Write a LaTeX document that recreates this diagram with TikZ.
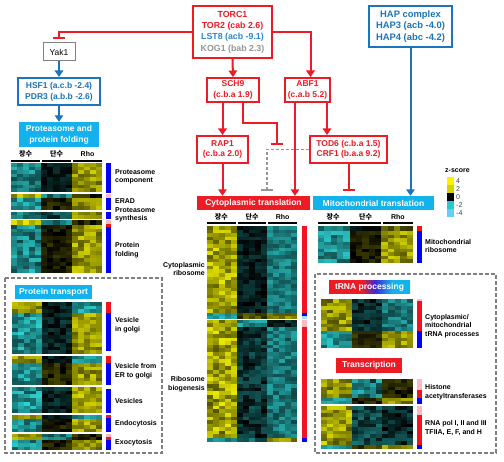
\documentclass[tikz,border=0pt]{standalone}
\usepackage{fontspec}
\setmainfont{Liberation Sans}
\newfontfamily\kr{Noto Sans CJK KR}
\usetikzlibrary{arrows.meta,calc}
\definecolor{tred}{RGB}{237,28,36}
\definecolor{tblue}{RGB}{27,117,188}
\definecolor{lblue}{RGB}{45,135,205}
\definecolor{tcyan}{RGB}{20,178,236}
\definecolor{tgray}{RGB}{150,150,150}
\definecolor{hmY}{RGB}{235,235,0}
\definecolor{hmC}{RGB}{50,235,235}
\definecolor{bred}{RGB}{240,20,30}
\definecolor{bblue}{RGB}{0,0,255}
\definecolor{bpink}{RGB}{255,185,195}
\definecolor{blight}{RGB}{170,220,255}
\definecolor{tpurp}{RGB}{60,40,220}
\pgfdeclarehorizontalshading{trnash}{100bp}{color(0bp)=(tred); color(25bp)=(tred); color(45.5bp)=(tred); color(53.5bp)=(tpurp); color(64bp)=(tcyan); color(75bp)=(tcyan); color(100bp)=(tcyan)}
\newcommand\hmblock[5]{%
  \pgfmathsetmacro\hmw{(#3-#1)/15}%
  \pgfmathtruncatemacro\hmn{max(1,round((#4-#2)/3.6))}%
  \pgfmathsetmacro\hmh{(#4-#2)/\hmn}%
  \foreach \gc/\glo/\ghi [count=\gi from 0] in {#5}{%
    \foreach \cx in {0,...,4}{%
      \foreach \ry in {1,...,\hmn}{%
        \pgfmathtruncatemacro\hv{\glo+(\ghi-\glo)*rnd}%
        \fill[\gc!\hv!black] ({#1+(\gi*5+\cx)*\hmw},{#2+(\ry-1)*\hmh}) rectangle ++(\hmw+0.05,\hmh+0.05);
      }}}}
\newcommand\sidebar[4]{\fill[#4] (#1,#2) rectangle (#1+5,#3);}
\newcommand\hmhead[5]{%
  \pgfmathsetmacro\hdw{(#3-#2-4)/3}%
  \foreach \k/\t in {0/{\kr 장수},1/{\kr 단수},2/Rho}{%
    \pgfmathsetmacro\hx{#2+\k*(\hdw+2)}%
    \draw[line width=1.6pt] (\hx,#5) -- ++(\hdw,0);
    \node[hlab] (#1\k) at (\hx+\hdw/2,#4) {\t};
  }}
\tikzset{
  rbox/.style={draw=tred, line width=2pt, fill=white, align=center, inner sep=0pt, text=tred, font=\fontsize{8.5}{10.5}\selectfont\bfseries},
  bbox/.style={draw=tblue, line width=2pt, fill=white, align=center, inner sep=0pt, text=tblue, font=\fontsize{8.5}{11}\selectfont\bfseries},
  filledbox/.style={fill=#1, text=white, inner sep=0pt, align=center, font=\fontsize{8.5}{11}\selectfont\bfseries},
  rline/.style={draw=tred, line width=2pt},
  bline/.style={draw=tblue, line width=2pt},
  gline/.style={draw=tgray, line width=1.6pt, dash pattern=on 3pt off 2pt},
  dbox/.style={draw=gray, line width=1.6pt, dash pattern=on 4pt off 2pt},
  arrowtip/.style={-{Triangle[length=6.5pt,width=8.5pt]}},
  tbar/.style={-{Bar[width=12pt]}},
  hlab/.style={font=\fontsize{7}{8}\selectfont\bfseries, inner sep=0pt},
  lab/.style={font=\fontsize{7}{8.5}\selectfont\bfseries, align=left, anchor=west, inner sep=0pt},
  rlab/.style={font=\fontsize{7}{8.5}\selectfont\bfseries, align=right, anchor=east, inner sep=0pt},
}
\begin{document}
\begin{tikzpicture}[x=1pt,y=-1pt]
\useasboundingbox (0,0) rectangle (504,462);
\pgfmathsetseed{11}
% ---------- regulator boxes
\node[rbox, minimum width=79pt, minimum height=52pt, font=\fontsize{8.8}{11.3}\selectfont\bfseries] (torc) at (232.5,32)
  {\textcolor{tred}{TORC1}\\\textcolor{tred}{TOR2 (cab 2.6)}\\\textcolor{lblue}{LST8 (acb -9.1)}\\\textcolor{tgray}{KOG1 (bab 2.3)}};
\node[draw=gray, line width=1pt, fill=white, inner sep=0pt, minimum width=32pt, minimum height=18pt, font=\fontsize{8.5}{10}\selectfont] (yak) at (59,52) {Yak1};
\node[bbox, minimum width=82pt, minimum height=27pt] (hsf) at (59,91.5) {HSF1 (a.c.b -2.4)\\PDR3 (a.b.b -2.6)};
\node[filledbox=tcyan, minimum width=80pt, minimum height=25pt] (prot) at (59,134.5) {Proteasome and\\protein folding};
\node[bbox, minimum width=83pt, minimum height=41pt, font=\fontsize{9.4}{11.5}\selectfont\bfseries] (hap) at (410.5,26.5) {HAP complex\\HAP3 (acb -4.0)\\HAP4 (abc -4.2)};
\node[rbox, minimum width=52pt, minimum height=24pt] (sch9) at (233,90) {SCH9\\(c.b.a 1.9)};
\node[rbox, minimum width=45pt, minimum height=24pt] (abf) at (307.5,90) {ABF1\\(c.a.b 5.2)};
\node[rbox, minimum width=51pt, minimum height=27pt] (rap) at (222.5,149.5) {RAP1\\(c.b.a 2.0)};
\node[rbox, minimum width=77pt, minimum height=27pt] (tod) at (348.5,149.5) {TOD6 (c.b.a 1.5)\\CRF1 (b.a.a 9.2)};
\node[filledbox=tred, minimum width=113pt, minimum height=14pt] (cyt) at (253.5,203) {Cytoplasmic translation};
\node[filledbox=tcyan, minimum width=121pt, minimum height=14pt] (mito) at (373.5,203) {Mitochondrial translation};
% ---------- connectors
\draw[rline,tbar] (torc.west) -| ([yshift=3pt]yak.north);
\draw[bline,arrowtip] (yak.south) -- (hsf.north);
\draw[bline,arrowtip] (hsf.south) -- (prot.north);
\draw[rline,arrowtip] (torc.south) -- (sch9.north);
\draw[rline,arrowtip] (torc.east) -| ([xshift=3pt]abf.north);
\draw[rline,arrowtip] (sch9.south -| rap.north) -- (rap.north);
\coordinate (sb) at (277,145);
\draw[rline,tbar] ([xshift=10pt]sch9.south) -- ++(0,20) -| (sb);
\coordinate (a1) at ($(abf.south)+(-12.5,0)$);
\coordinate (a2) at ($(abf.south)+(19.5,0)$);
\draw[rline,arrowtip] (a1) -- (a1 |- cyt.north);
\draw[rline,arrowtip] (a2) -- (a2 |- tod.north);
\draw[rline,arrowtip] (rap.south) -- (rap.south |- cyt.north);
\coordinate (t1) at (tod.south |- mito.north);
\draw[rline,tbar] (tod.south) -- ([yshift=5pt]t1);
\draw[bline,arrowtip] (hap.south) -- (hap.south |- mito.north);
\coordinate (dg) at (267,191);
\draw[gline,tbar] (tod.west) -| (dg);
% ---------- proteasome heatmap
\hmhead{ph}{11}{102}{154}{161}
\hmblock{11}{163}{102}{192}{hmC/30/80, hmC/0/25, hmY/40/90}
\hmblock{11}{194}{102}{198}{hmY/50/95, hmC/30/70, hmY/0/30}
\hmblock{11}{198}{102}{210}{hmC/40/90, hmY/0/30, hmY/40/85}
\hmblock{11}{212}{102}{219}{hmC/30/75, hmC/10/50, hmY/40/80}
\hmblock{11}{220}{102}{225}{hmY/50/100, hmC/30/70, hmY/0/30}
\hmblock{11}{225}{102}{273}{hmC/30/85, hmY/0/25, hmY/40/90}
\sidebar{106}{163}{193}{bblue}
\sidebar{106}{194}{198}{bpink}
\sidebar{106}{198}{210}{bblue}
\sidebar{106}{212}{219}{bblue}
\sidebar{106}{220}{224}{bpink}
\sidebar{106}{224}{227}{bred}
\sidebar{106}{227}{273}{bblue}
\node[lab] (l1) at (115,177) {Proteasome\\component};
\node[lab] (l2) at (115,201) {ERAD};
\node[lab] (l3) at (115,215) {Proteasome\\synthesis};
\node[lab] (l4) at (115,250) {Protein\\folding};
% ---------- protein transport
\draw[dbox] (5,278) rectangle (162,453);
\node[filledbox=tcyan, minimum width=77pt, minimum height=14pt] (ptr) at (53.5,292) {Protein transport};
\hmblock{12}{302}{102}{313}{hmY/40/90, hmC/0/25, hmC/40/85}
\hmblock{12}{313}{102}{354}{hmC/35/90, hmC/0/30, hmY/40/90}
\hmblock{12}{356}{102}{363}{hmY/40/90, hmC/0/25, hmC/40/80}
\hmblock{12}{363}{102}{385}{hmC/35/85, hmY/0/30, hmY/40/90}
\hmblock{12}{387}{102}{413}{hmC/35/90, hmC/0/30, hmY/45/95}
\hmblock{12}{415}{102}{419}{hmY/40/85, hmC/0/25, hmC/40/80}
\hmblock{12}{419}{102}{432}{hmC/35/85, hmY/0/25, hmY/40/90}
\hmblock{12}{434}{102}{440}{hmY/50/90, hmC/30/70, hmY/0/30}
\hmblock{12}{440}{102}{450}{hmC/35/85, hmY/0/30, hmY/40/80}
\sidebar{106}{302}{313}{bred}
\sidebar{106}{313}{351}{bblue}
\sidebar{106}{356}{363}{bred}
\sidebar{106}{363}{385}{bblue}
\sidebar{106}{389}{413}{bblue}
\sidebar{106}{415}{418}{bred}
\sidebar{106}{418}{432}{bblue}
\sidebar{106}{434}{437}{bpink}
\sidebar{106}{437}{440}{bred}
\sidebar{106}{440}{450}{bblue}
\node[lab] (l5) at (115,325) {Vesicle\\in golgi};
\node[lab] (l6) at (115,371) {Vesicle from\\ER to golgi};
\node[lab] (l7) at (115,401) {Vesicles};
\node[lab] (l8) at (115,424) {Endocytosis};
\node[lab] (l9) at (115,443) {Exocytosis};
% ---------- cytoplasmic translation heatmap
\hmhead{ch}{207}{297}{217}{223}
\hmblock{207}{226}{297}{313}{hmY/40/100, hmC/0/25, hmC/35/70}
\hmblock{207}{313}{297}{319}{hmC/40/80, hmY/10/50, hmY/30/70}
\hmblock{207}{320}{297}{327}{hmY/40/90, hmC/40/80, hmC/0/30}
\hmblock{207}{327}{297}{438}{hmY/35/100, hmC/0/40, hmC/30/70}
\hmblock{207}{438}{297}{442}{hmC/40/80, hmC/20/60, hmY/40/90}
\sidebar{302}{226}{313}{bred}
\sidebar{302}{313}{316}{bblue}
\sidebar{302}{316}{319}{blight}
\sidebar{302}{320}{327}{bpink}
\sidebar{302}{327}{438}{bred}
\sidebar{302}{438}{442}{bblue}
\node[rlab] (l10) at (205,269) {Cytoplasmic\\ribosome};
\node[rlab] (l11) at (205,384) {Ribosome\\biogenesis};
% ---------- mitochondrial translation heatmap
\hmhead{mh}{318}{413}{217}{223}
\hmblock{318}{226}{413}{231}{hmC/30/70, hmC/0/20, hmY/20/60}
\hmblock{318}{231}{413}{263}{hmC/35/85, hmY/0/25, hmY/40/90}
\sidebar{417}{226}{231}{bred}
\sidebar{417}{231}{263}{bblue}
\node[lab] (l12) at (425,246) {Mitochondrial\\ribosome};
% ---------- right dashed box
\draw[dbox] (315,274) rectangle (496,453);
\node[shading=trnash, text=white, inner sep=0pt, minimum width=81pt, minimum height=13pt, font=\fontsize{8.5}{11}\selectfont\bfseries] (trna) at (369.5,287.5) {tRNA processing};
\hmblock{321}{299}{413}{331}{hmY/35/90, hmC/0/35, hmC/30/70}
\hmblock{321}{331}{413}{348}{hmC/40/90, hmY/0/30, hmY/40/90}
\sidebar{417}{299}{301}{bpink}
\sidebar{417}{301}{331}{bred}
\sidebar{417}{331}{348}{bblue}
\node[lab] (l13) at (425,326) {Cytoplasmic/\\mitochondrial\\tRNA processes};
\node[filledbox=tred, minimum width=66pt, minimum height=15pt] (trans) at (369,365.5) {Transcription};
\hmblock{321}{379}{413}{398}{hmY/35/85, hmC/20/80, hmY/0/30}
\hmblock{321}{398}{413}{404}{hmC/40/80, hmY/0/30, hmY/40/80}
\hmblock{321}{406}{413}{445}{hmY/35/95, hmC/10/50, hmC/0/40}
\hmblock{321}{445}{413}{449}{hmC/40/80, hmY/10/40, hmY/40/80}
\sidebar{417}{379}{390}{bpink}
\sidebar{417}{390}{398}{bred}
\sidebar{417}{398}{404}{bblue}
\sidebar{417}{406}{415}{bpink}
\sidebar{417}{415}{445}{bred}
\sidebar{417}{445}{449}{bblue}
\node[lab] (l14) at (425,392) {Histone\\acetyltransferases};
\node[lab] (l15) at (425,428) {RNA pol I, II and III\\TFIIA, E, F, and H};
% ---------- legend
\node[lab] (zs) at (445,171) {z-score};
\fill[yellow] (447,177) rectangle (454,185);
\fill[hmY!90!black] (447,185) rectangle (454,193);
\fill[black] (447,193) rectangle (454,201);
\fill[hmC!85!black] (447,201) rectangle (454,209);
\fill[cyan!60!white] (447,209) rectangle (454,217);
\foreach \v/\yy [count=\i] in {4/181,2/189,0/197,-2/205,-4/213}
  \node[font=\fontsize{7}{8}\selectfont, text=black!75, anchor=west, inner sep=0pt] (zl\i) at (456,\yy) {\v};
\end{tikzpicture}
\end{document}
